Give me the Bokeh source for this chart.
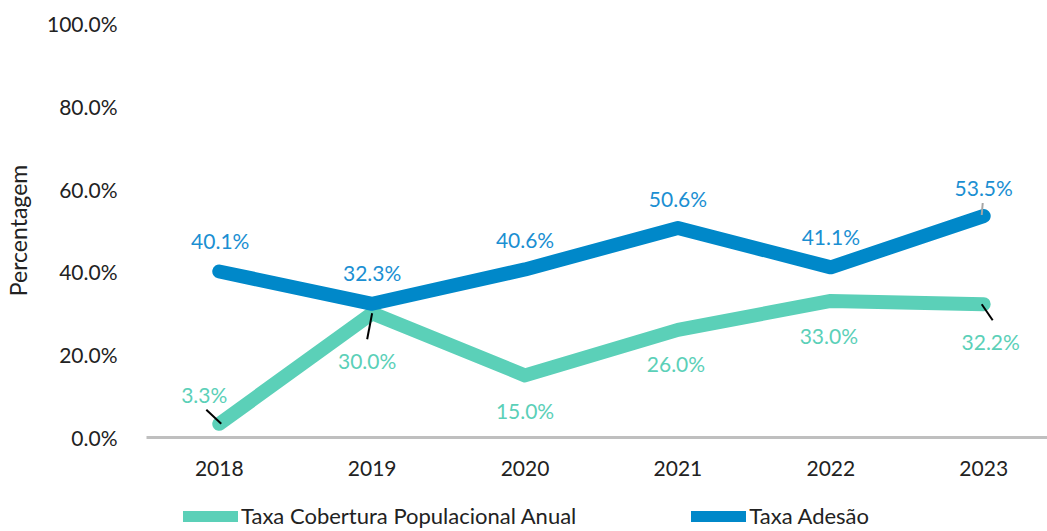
from bokeh.plotting import figure
from bokeh.layouts import column
from bokeh.models import (ColumnDataSource, Range1d, FixedTicker, PrintfTickFormatter,
                          Legend, LegendItem)
from bokeh.embed import file_html
from bokeh.resources import INLINE
from bokeh.core.properties import value

years = [2018, 2019, 2020, 2021, 2022, 2023]
cobertura = [3.3, 30.0, 15.0, 26.0, 33.0, 32.2]
adesao = [40.1, 32.3, 40.6, 50.6, 41.1, 53.5]
y_ticks = [0, 20, 40, 60, 80, 100]
series_names = ["Taxa Cobertura Populacional Anual", "Taxa Adesão"]

TEAL = "#5BD0B8"
BLUE = "#0088C9"
BLUE_TXT = "#1B8FD2"
FONT = "Lato"

W, H = 1047, 494
LH = 37
ML, MR, MT, MB = 143, 0, 23, 57
frame_w = W - ML - MR
frame_h = H - MT - MB

x0 = 2018 - 73 / 153.4
x1 = 2018 + (W - 216) / 153.4
p = figure(width=W, height=H, output_backend="svg", toolbar_location=None,
           x_range=Range1d(x0, x1), y_range=Range1d(0, 100),
           min_border_left=ML, min_border_right=MR, min_border_top=MT,
           min_border_bottom=MB)
p.outline_line_color = None
p.xgrid.visible = False
p.ygrid.visible = False

pxx = (x1 - x0) / frame_w
pxy = 100.0 / frame_h

src = ColumnDataSource(dict(x=years, c=cobertura, a=adesao,
                            cl=[f"{v:.1f}%" for v in cobertura],
                            al=[f"{v:.1f}%" for v in adesao]))

line_style = dict(line_width=14, line_cap="round", line_join="round")
p.line("x", "c", source=src, line_color=TEAL, **line_style)
p.line("x", "a", source=src, line_color=BLUE, **line_style)

# leader lines (pixel offsets relative to points)
def seg(xv, yv, a, b, color):
    p.segment(x0=[xv + a[0] * pxx], y0=[yv - a[1] * pxy],
              x1=[xv + b[0] * pxx], y1=[yv - b[1] * pxy],
              line_color=color, line_width=2)

seg(years[0], cobertura[0], (-13, -14), (2, 0), "black")
seg(years[1], cobertura[1], (-5, 26), (0, 0), "black")
seg(years[5], cobertura[5], (-2, 0), (9, 16), "black")
seg(years[5], adesao[5], (-2, -1), (-1, -13), "#A6A6A6")

# labels
a_dx = [1, 0, 0, 0, 0, 0]
a_dy = [-31, -31, -30, -30, -31, -29]
c_dx = [-15, -5, 0, -2, -2, 7]
c_dy = [-29, 47, 35, 34, 35, 37]
for i in range(len(years)):
    p.text(x=[years[i]], y=[adesao[i]], text=[src.data["al"][i]],
           x_offset=a_dx[i], y_offset=a_dy[i], text_align="center",
           text_baseline="middle", text_color=BLUE_TXT,
           text_font=value(FONT), text_font_size="21px")
    p.text(x=[years[i]], y=[cobertura[i]], text=[src.data["cl"][i]],
           x_offset=c_dx[i], y_offset=c_dy[i], text_align="center",
           text_baseline="middle", text_color=TEAL,
           text_font=value(FONT), text_font_size="21px")

# axes
p.xaxis.ticker = FixedTicker(ticks=years)
p.xaxis.axis_line_color = "#BFBFBF"
p.xaxis.axis_line_width = 3
p.xaxis.major_tick_line_color = None
p.xaxis.minor_tick_line_color = None
p.xaxis.major_label_text_font = FONT
p.xaxis.major_label_text_font_size = "21px"
p.xaxis.major_label_text_color = "#222222"
p.xaxis.major_label_standoff = 17

p.yaxis.ticker = FixedTicker(ticks=y_ticks)
p.yaxis.formatter = PrintfTickFormatter(format="%.1f%%")
p.yaxis.axis_line_color = None
p.yaxis.major_tick_line_color = None
p.yaxis.minor_tick_line_color = None
p.yaxis.major_label_text_font = FONT
p.yaxis.major_label_text_font_size = "21px"
p.yaxis.major_label_text_color = "#222222"
p.yaxis.major_label_standoff = 23
p.yaxis.axis_label = "Percentagem"
p.yaxis.axis_label_text_font = FONT
p.yaxis.axis_label_text_font_size = "23px"
p.yaxis.axis_label_text_font_style = "normal"
p.yaxis.axis_label_text_color = "#222222"
p.yaxis.axis_label_standoff = 12

# legend strip (its renderers use the same data but fall outside its ranges)
q = figure(width=W, height=LH, output_backend="svg", toolbar_location=None,
           x_range=Range1d(0, 1), y_range=Range1d(0, 1),
           x_axis_location=None, y_axis_location=None,
           min_border_left=0, min_border_right=0, min_border_top=0,
           min_border_bottom=0)
q.outline_line_color = None
q.xgrid.visible = False
q.ygrid.visible = False
leg_style = dict(line_width=11, line_cap="round", line_join="round")
lc = q.line("x", "c", source=src, line_color=TEAL, **leg_style)
la = q.line("x", "a", source=src, line_color=BLUE, **leg_style)
legend = Legend(items=[LegendItem(label=series_names[0], renderers=[lc]),
                       LegendItem(label=series_names[1], renderers=[la])],
                orientation="horizontal", location=(37, 2),
                padding=0, margin=0, spacing=115, label_standoff=3,
                glyph_width=55, glyph_height=22, label_height=22,
                label_text_font=FONT, label_text_font_size="22px",
                label_text_color="#222222", border_line_color=None,
                background_fill_alpha=0)
q.add_layout(legend, "center")

open("out.html", "w").write(file_html(column(p, q, spacing=0), INLINE))
